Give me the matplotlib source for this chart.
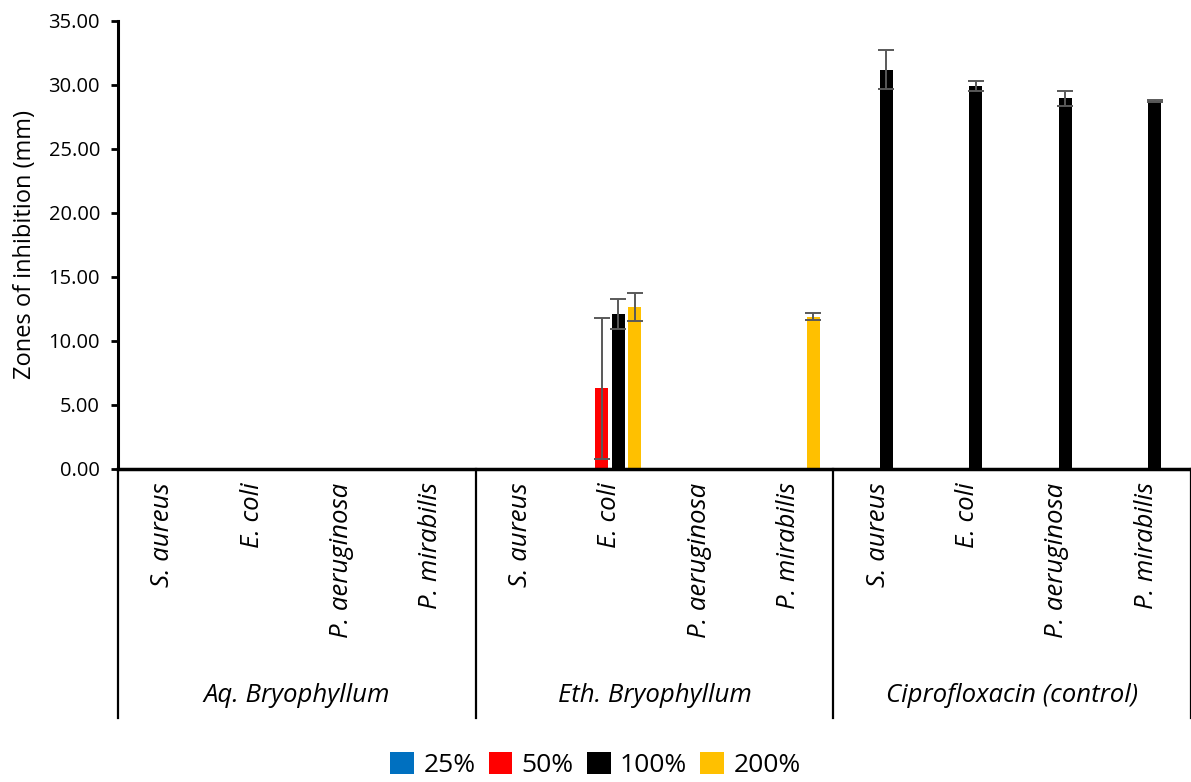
import numpy as np
import matplotlib.pyplot as plt
from matplotlib.patches import Patch

plt.rcParams['font.family'] = ['Open Sans', 'DejaVu Sans']

organisms = ['S. aureus', 'E. coli', 'P. aeruginosa', 'P. mirabilis']
extracts = ['Aq. Bryophyllum', 'Eth. Bryophyllum', 'Ciprofloxacin (control)']
series = ['25%', '50%', '100%', '200%']
colors = ['#0070C0', '#FF0000', '#000000', '#FFC000']

# mean zones (mm), order: Aq x4, Eth x4, Cipro x4
z25 = [0, 0, 0, 0, 0, 0, 0, 0, 0, 0, 0, 0]
z50 = [0, 0, 0, 0, 0, 6.30, 0, 0, 0, 0, 0, 0]
z100 = [0, 0, 0, 0, 0, 12.10, 0, 0, 31.20, 29.90, 28.95, 28.75]
z200 = [0, 0, 0, 0, 0, 12.65, 0, 11.90, 0, 0, 0, 0]

# standard deviations
s25 = [0, 0, 0, 0, 0, 0, 0, 0, 0, 0, 0, 0]
s50 = [0, 0, 0, 0, 0, 5.50, 0, 0, 0, 0, 0, 0]
s100 = [0, 0, 0, 0, 0, 1.15, 0, 0, 1.55, 0.40, 0.60, 0.05]
s200 = [0, 0, 0, 0, 0, 1.10, 0, 0.25, 0, 0, 0, 0]

means = [z25, z50, z100, z200]
sds = [s25, s50, s100, s200]

fig = plt.figure(figsize=(11.91, 7.82), dpi=100)
ax = fig.add_axes([0.0991, 0.4003, 0.9009, 0.5729])

x = np.arange(12)
pitch = 0.185
width = 0.145
for i in range(4):
    pos = x + (i - 1.5) * pitch
    m = np.array(means[i], dtype=float)
    s = np.array(sds[i], dtype=float)
    ax.bar(pos, m, width=width, color=colors[i], zorder=2)
    k = s > 0
    ax.errorbar(pos[k], m[k], yerr=s[k], fmt='none', ecolor='#595959',
                elinewidth=1.4, capsize=5.5, capthick=1.4, zorder=3)

ax.set_xlim(-0.5, 11.5)
ax.set_ylim(0, 35)
ax.set_yticks(np.arange(0, 35.1, 5))
ax.set_yticklabels(['%.2f' % v for v in np.arange(0, 35.1, 5)], fontsize=14.5)
ax.set_ylabel('Zones of inhibition (mm)', fontsize=17, labelpad=8)
ax.tick_params(axis='y', direction='out', length=5, width=2, pad=8)
ax.set_xticks([])
for s in ['top', 'right']:
    ax.spines[s].set_visible(False)
ax.spines['left'].set_linewidth(2.2)
ax.spines['bottom'].set_linewidth(2.5)

trans = ax.get_xaxis_transform()
for j in range(12):
    ax.text(x[j], -0.03, organisms[j % 4], rotation=90, ha='center', va='top',
            style='italic', fontsize=18.5, transform=trans)
for g in range(3):
    ax.text(g * 4 + 1.5, -0.505, extracts[g], ha='center', va='center',
            style='italic', fontsize=18.5, transform=trans)
for b in [-0.5, 3.5, 7.5, 11.5]:
    ax.plot([b, b], [0, -0.556], color='black', lw=1.6, transform=trans, clip_on=False)

handles = [Patch(facecolor=c) for c in colors]
fig.legend(handles, series, loc='center', bbox_to_anchor=(0.5, 1 - 765 / 782),
           ncol=4, frameon=False, fontsize=19, handlelength=0.9, handleheight=0.9,
           handletextpad=0.35, columnspacing=0.5)

fig.savefig('out.png', dpi=100)
